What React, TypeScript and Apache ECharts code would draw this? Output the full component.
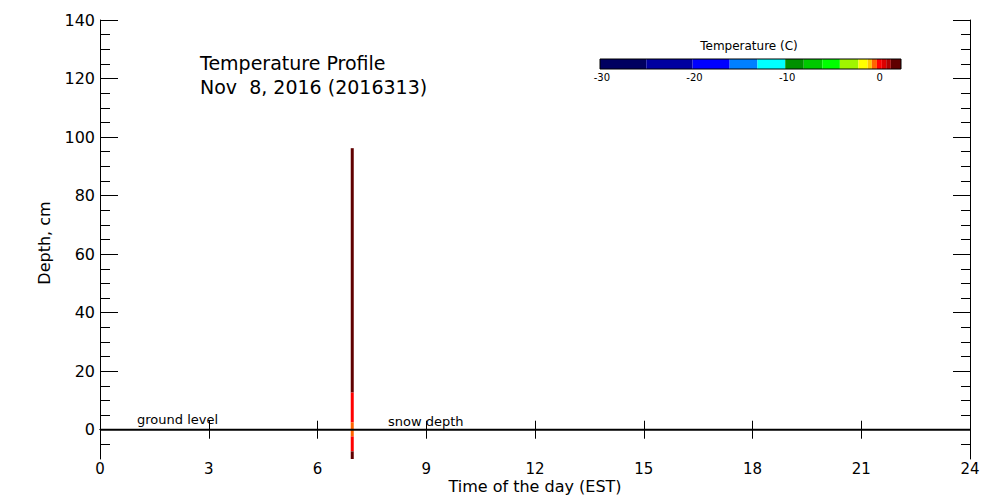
import React, { useEffect, useRef } from "react";
import * as echarts from "echarts";

// ---- Data ----
const xTickLabels = [0, 3, 6, 9, 12, 15, 18, 21, 24];
const depthMajorTicks = [0, 20, 40, 60, 80, 100, 120, 140];
const depthMinorTicks = [-5, 5, 10, 15, 25, 30, 35, 45, 50, 55, 65, 70, 75, 85, 90, 95, 105, 110, 115, 125, 130, 135];

// profile measurement window (hours)
const profileStart = 6.917;
const profileEnd = 7.0;
// vertical segments of the profile (depth cm) and temperature (C)
const segTop = [96.2, 12.7, 2.5, -2.3, -7.4];
const segBottom = [12.7, 2.5, -2.3, -7.4, -10];
const segTemp = [2.0, 0.0, -0.5, 0.0, 2.0];

// colour scale bins (C)
const cbarEdges = [-30.2, -25.2, -20.2, -16.2, -13.2, -10.2, -8.2, -6.2, -4.3, -2.3, -1.3, -0.85, -0.3, 0.23, 0.7, 1.2, 2.3];
const cbarColors = [
  "#000060", "#0000a0", "#0000ff", "#0080ff", "#00ffff",
  "#009000", "#00c800", "#00ff00", "#a0f500", "#ffff00",
  "#ffc800", "#ff6400", "#ff0000", "#dc0000", "#b00000", "#600000",
];
const cbarTickLabels = [-30, -20, -10, 0];

// ground line
const groundLine = [[0, 0], [24, 0]];

const FONT = "DejaVu Sans";

function tempColor(t: number): string {
  for (let i = 0; i < cbarColors.length; i++) {
    if (t >= cbarEdges[i] && t < cbarEdges[i + 1]) return cbarColors[i];
  }
  return t < cbarEdges[0] ? cbarColors[0] : cbarColors[cbarColors.length - 1];
}

export default function App() {
  const ref = useRef<HTMLDivElement>(null);
  useEffect(() => {
    if (!ref.current) return;
    const chart = echarts.init(ref.current, undefined, { renderer: "svg" });

    const profileData = segTop.map((top, i) => ({
      value: [profileStart, profileEnd, top, segBottom[i], segTemp[i]],
      itemStyle: { color: tempColor(segTemp[i]) },
    }));
    const cbarData = cbarColors.map((c, i) => ({
      value: [cbarEdges[i], cbarEdges[i + 1]],
      itemStyle: { color: c },
    }));

    const rectItem = (params: any, api: any, y0: number, y1: number) => {
      const p0 = api.coord([api.value(0), y0]);
      const p1 = api.coord([api.value(1), y1]);
      return {
        type: "rect",
        shape: { x: p0[0], y: p0[1], width: p1[0] - p0[0], height: p1[1] - p0[1] },
        style: { fill: api.visual("color") },
      };
    };

    const axisLineStyle = { show: true, lineStyle: { color: "#000", width: 1 } };
    const tickStyle = { color: "#000", width: 1 };

    chart.setOption({
      animation: false,
      backgroundColor: "#fff",
      textStyle: { fontFamily: FONT },
      grid: [
        { left: 100, top: 20, right: 30, bottom: 41, containLabel: false },
        { left: 600, top: 59, width: 301, height: 10, containLabel: false },
      ],
      xAxis: [
        {
          gridIndex: 0, type: "value", min: 0, max: 24, interval: 3, position: "bottom",
          axisLine: axisLineStyle,
          axisTick: { show: true, inside: true, length: 9, lineStyle: tickStyle },
          axisLabel: { show: true, color: "#000", fontSize: 15, fontFamily: FONT, margin: 2, customValues: xTickLabels },
          splitLine: { show: false },
        },
        {
          gridIndex: 0, type: "value", min: 0, max: 24, interval: 3, position: "top",
          axisLine: axisLineStyle,
          axisTick: { show: true, inside: true, length: 9, lineStyle: tickStyle },
          axisLabel: { show: false },
          splitLine: { show: false },
        },
        {
          gridIndex: 1, type: "value", min: cbarEdges[0], max: cbarEdges[cbarEdges.length - 1], position: "bottom",
          axisLine: { show: false },
          axisTick: { show: false },
          axisLabel: { show: true, color: "#000", fontSize: 10, fontFamily: FONT, margin: 3, customValues: cbarTickLabels },
          splitLine: { show: false },
        },
      ],
      yAxis: [
        {
          gridIndex: 0, type: "value", min: -10, max: 140, position: "left",
          axisLine: axisLineStyle,
          axisTick: { show: true, inside: true, length: 18, lineStyle: tickStyle, customValues: depthMajorTicks },
          axisLabel: { show: true, color: "#000", fontSize: 16, fontFamily: FONT, margin: 5, customValues: depthMajorTicks },
          splitLine: { show: false },
        },
        {
          gridIndex: 0, type: "value", min: -10, max: 140, position: "left",
          axisLine: { show: false },
          axisTick: { show: true, inside: true, length: 10, lineStyle: tickStyle, customValues: depthMinorTicks },
          axisLabel: { show: false },
          splitLine: { show: false },
        },
        {
          gridIndex: 0, type: "value", min: -10, max: 140, position: "right",
          axisLine: axisLineStyle,
          axisTick: { show: true, inside: true, length: 17, lineStyle: tickStyle, customValues: depthMajorTicks },
          axisLabel: { show: false },
          splitLine: { show: false },
        },
        {
          gridIndex: 0, type: "value", min: -10, max: 140, position: "right",
          axisLine: { show: false },
          axisTick: { show: true, inside: true, length: 9, lineStyle: tickStyle, customValues: depthMinorTicks },
          axisLabel: { show: false },
          splitLine: { show: false },
        },
        { gridIndex: 1, type: "value", min: 0, max: 1, show: false },
      ],
      series: [
        {
          type: "custom",
          name: "profile",
          xAxisIndex: 0,
          yAxisIndex: 0,
          clip: true,
          z: 2,
          renderItem: (params: any, api: any) => rectItem(params, api, api.value(2), api.value(3)),
          encode: { x: [0, 1], y: [2, 3] },
          data: profileData,
        },
        {
          type: "line",
          name: "ground",
          xAxisIndex: 0,
          yAxisIndex: 0,
          z: 3,
          symbol: "none",
          silent: true,
          lineStyle: { color: "#000", width: 2 },
          data: groundLine,
        },
        {
          type: "custom",
          name: "colorbar",
          xAxisIndex: 2,
          yAxisIndex: 4,
          z: 2,
          renderItem: (params: any, api: any) => rectItem(params, api, 1, 0),
          encode: { x: [0, 1] },
          data: cbarData,
        },
      ],
      graphic: [
        {
          type: "rect", z: 10, silent: true,
          shape: { x: 600, y: 59, width: 301, height: 10 },
          style: { fill: "none", stroke: "#000", lineWidth: 1 },
        },
        {
          type: "text", x: 749, y: 46,
          style: { text: "Temperature (C)", fontSize: 12, fontFamily: FONT, fill: "#000", textAlign: "center", textVerticalAlign: "middle" },
        },
        {
          type: "text", x: 200, y: 63,
          style: { text: "Temperature Profile", fontSize: 19, fontFamily: FONT, fill: "#000", textAlign: "left", textVerticalAlign: "middle" },
        },
        {
          type: "text", x: 200, y: 87,
          style: { text: "Nov  8, 2016 (2016313)", fontSize: 19, fontFamily: FONT, fill: "#000", textAlign: "left", textVerticalAlign: "middle" },
        },
        {
          type: "text", x: 137, y: 419,
          style: { text: "ground level", fontSize: 13, fontFamily: FONT, fill: "#000", textAlign: "left", textVerticalAlign: "middle" },
        },
        {
          type: "text", x: 388, y: 421,
          style: { text: "snow depth", fontSize: 13, fontFamily: FONT, fill: "#000", textAlign: "left", textVerticalAlign: "middle" },
        },
        {
          type: "text", x: 535, y: 486,
          style: { text: "Time of the day (EST)", fontSize: 16, fontFamily: FONT, fill: "#000", textAlign: "center", textVerticalAlign: "middle" },
        },
        {
          type: "text", x: 44, y: 243, rotation: Math.PI / 2,
          style: { text: "Depth, cm", fontSize: 16, fontFamily: FONT, fill: "#000", textAlign: "center", textVerticalAlign: "middle" },
        },
      ],
    });

    return () => chart.dispose();
  }, []);

  return (
    <div
      ref={ref}
      style={{ position: "fixed", left: 0, top: 0, width: 1000, height: 500, background: "#fff" }}
    />
  );
}
